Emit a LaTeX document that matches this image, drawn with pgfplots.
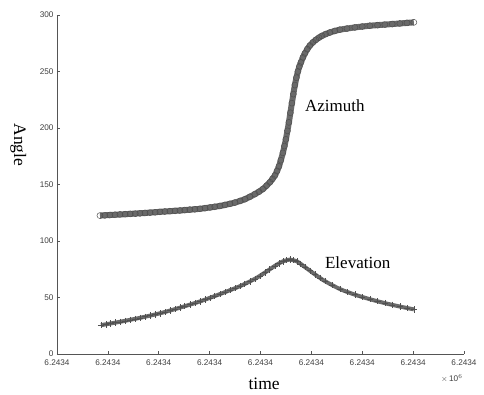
\documentclass[border=0pt]{standalone}
\usepackage{pgfplots}
\pgfplotsset{compat=1.18}
\usepackage{fontspec}
\setmainfont{Liberation Serif}
\setsansfont{Liberation Sans}
\definecolor{curve}{HTML}{6A6A6A}
\definecolor{axl}{HTML}{555555}
\begin{document}
\begin{tikzpicture}
\useasboundingbox (-57pt,-41pt) rectangle (427pt,354pt);
\begin{axis}[
  at={(0,0)}, anchor=south west,
  scale only axis, width=407pt, height=339pt,
  xmin=0, xmax=8, ymin=0, ymax=300,
  axis x line*=bottom, axis y line*=left,
  axis line style={axl, line width=0.8pt},
  xtick={0,1,...,8},
  xticklabels={6.2434,6.2434,6.2434,6.2434,6.2434,6.2434,6.2434,6.2434,6.2434},
  ytick={0,50,...,300},
  tick align=inside, major tick length=3pt,
  tick style={axl, line width=0.6pt},
  ticklabel style={font=\sffamily\fontsize{8.2}{9}\selectfont, text=black!75},
  xticklabel style={yshift=-2.5pt},
  yticklabel style={/pgf/number format/assume math mode=true},
  xlabel={time}, ylabel={Angle},
  xlabel style={font=\fontsize{17.5}{19}\selectfont, at={(axis description cs:0.509,-0.0885)}, anchor=center},
  ylabel style={font=\fontsize{17.5}{19}\selectfont, at={(axis description cs:-0.095,0.617)}, anchor=center, rotate=180},
  clip=false,
]
% Azimuth
\addplot[curve, line width=6pt, smooth, tension=0.4] table {
x y
0.845 122.5
1.238 123.5
1.631 124.5
2.024 125.8
2.417 127
2.809 128.5
3.202 131
3.497 134
3.694 137
3.890 141.5
4.047 146
4.185 152
4.283 158
4.362 166
4.440 178
4.499 190
4.558 205
4.617 222
4.676 238
4.735 250
4.794 258
4.872 266
4.971 273
5.088 278
5.206 281.5
5.363 284.5
5.560 287
5.855 289
6.149 290.5
6.444 291.5
6.739 292.5
7.014 293.5
};
\addplot[only marks, mark=o, mark size=3pt, curve!75!black, line width=0.5pt] table {
x y
0.845 122.5
0.94 122.7
1.04 123
1.14 123.2
1.238 123.5
1.34 123.7
1.44 124
1.54 124.2
1.631 124.5
1.73 124.8
1.83 125.1
1.93 125.4
2.024 125.8
2.12 126.1
2.22 126.4
2.32 126.7
2.417 127
2.51 127.4
2.61 127.8
2.71 128.1
2.809 128.5
2.91 129.1
3.01 129.7
3.10 130.3
3.202 131
3.30 131.9
3.40 132.9
3.497 134
3.60 135.5
3.694 137
3.79 139.1
3.890 141.5
3.97 143.6
4.047 146
4.12 149
4.185 152
4.235 155
4.283 158
4.325 162
4.362 166
4.40 171.5
4.440 178
4.47 184
4.499 190
4.53 197.5
4.558 205
4.587 213.5
4.617 222
4.646 230
4.676 238
4.705 244.5
4.735 250
4.764 254.5
4.794 258
4.833 262.5
4.872 266
4.92 269.8
4.971 273
5.03 275.8
5.088 278
5.15 280
5.206 281.5
5.28 283.1
5.363 284.5
5.46 285.9
5.560 287
5.70 288
5.855 289
6.00 289.8
6.149 290.5
6.30 291
6.444 291.5
6.59 292
6.739 292.5
6.88 293
7.014 293.5
};
% Elevation
\addplot[curve, line width=4pt, smooth, tension=0.4] table {
x y
0.864 25.5
1.238 28.5
1.631 32
2.024 36
2.417 41
2.809 46.5
3.202 53
3.595 60
3.890 66.5
4.086 72
4.283 78
4.440 82
4.578 83.5
4.715 82
4.872 77
5.069 70.5
5.265 64.5
5.560 57.5
5.855 52.5
6.149 48.5
6.444 45
6.739 42
7.014 39.5
};
\addplot[only marks, mark=+, mark size=3.2pt, curve!75!black, line width=0.5pt] table {
x y
0.864 25.5
0.96 26.2
1.05 27
1.14 27.7
1.238 28.5
1.34 29.4
1.44 30.2
1.54 31.1
1.631 32
1.73 33
1.83 34
1.93 35
2.024 36
2.12 37.2
2.22 38.5
2.32 39.7
2.417 41
2.51 42.4
2.61 43.7
2.71 45.1
2.809 46.5
2.91 48.1
3.01 49.7
3.10 51.3
3.202 53
3.30 54.7
3.40 56.5
3.50 58.2
3.595 60
3.69 62.1
3.79 64.3
3.890 66.5
3.99 69.2
4.086 72
4.18 74.9
4.283 78
4.36 80.1
4.440 82
4.51 83
4.578 83.5
4.65 83
4.715 82
4.79 79.7
4.872 77
4.97 73.7
5.069 70.5
5.17 67.4
5.265 64.5
5.41 60.8
5.560 57.5
5.71 54.9
5.855 52.5
6.00 50.4
6.149 48.5
6.30 46.7
6.444 45
6.59 43.5
6.739 42
6.88 40.7
7.014 39.5
};
\node[font=\fontsize{17}{19}\selectfont] at (axis cs:5.46,220) {Azimuth};
\node[font=\fontsize{17}{19}\selectfont] at (axis cs:5.91,80.5) {Elevation};
\node[font=\sffamily\fontsize{8.2}{9}\selectfont, text=black!75] at (axis cs:7.76,-21.5) {$\times$\,10$^{6}$};
\end{axis}
\end{tikzpicture}
\end{document}
